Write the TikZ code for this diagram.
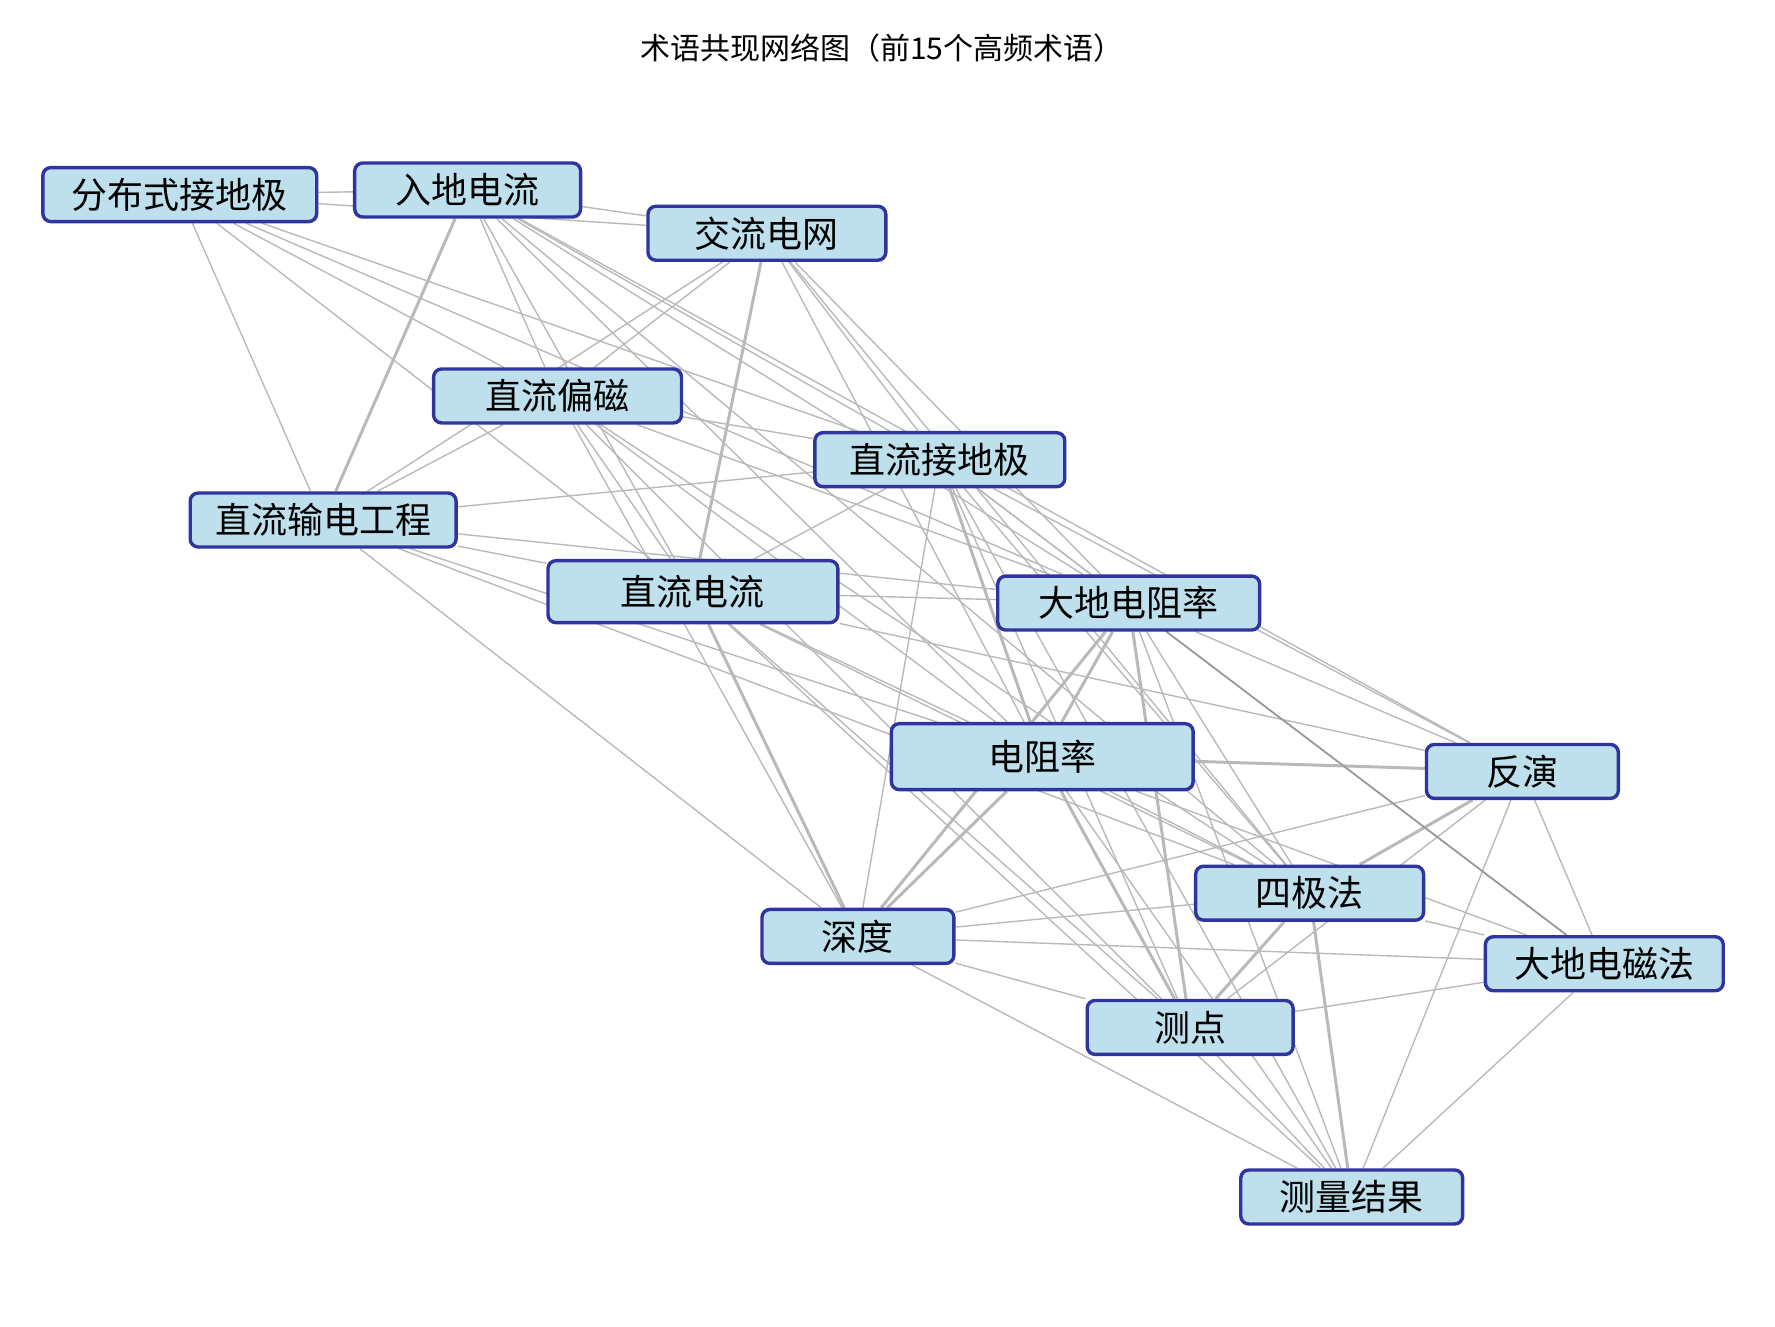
\documentclass[tikz,border=0pt]{standalone}
\usepackage{fontspec}
\setmainfont{Noto Sans CJK SC}
\usetikzlibrary{backgrounds}
\definecolor{nfill}{RGB}{190,224,236}
\definecolor{ndraw}{RGB}{48,52,160}
\begin{document}
\begin{tikzpicture}[x=0.02cm,y=-0.02cm,
  term/.style={draw=ndraw,fill=nfill,line width=1.7pt,rounded corners=4pt,inner sep=0pt,font=\fontsize{18}{20}\selectfont,minimum height=27pt},
  ed/.style={draw=gray!55,line width=0.7pt},
  edt/.style={draw=gray!55,line width=1.5pt}]
\useasboundingbox (0,0) rectangle (1560,1166);
\node[font=\fontsize{15}{18}\selectfont] (title) at (775,42) {术语共现网络图（前15个高频术语）};
\node[term,minimum width=137pt] (a) at (158,171) {分布式接地极};
\node[term,minimum width=113pt] (b) at (411,167) {入地电流};
\node[term,minimum width=119pt] (c) at (674,205) {交流电网};
\node[term,minimum width=124pt] (d) at (490,348) {直流偏磁};
\node[term,minimum width=125pt] (e) at (826,404) {直流接地极};
\node[term,minimum width=133pt] (f) at (284,457) {直流输电工程};
\node[term,minimum width=145pt,minimum height=31pt] (g) at (609,520) {直流电流};
\node[term,minimum width=131pt] (h) at (992,530) {大地电阻率};
\node[term,minimum width=151pt,minimum height=33pt] (i) at (916,665) {电阻率};
\node[term,minimum width=96pt] (j) at (1338,678) {反演};
\node[term,minimum width=114pt] (k) at (1151,785) {四极法};
\node[term,minimum width=96pt] (l) at (754,823) {深度};
\node[term,minimum width=119pt] (m) at (1410,847) {大地电磁法};
\node[term,minimum width=103pt] (n) at (1046,903) {测点};
\node[term,minimum width=111pt] (o) at (1188,1052) {测量结果};
\begin{scope}[on background layer]
\foreach \u/\v in {a/b,a/c,a/f,a/e,a/h,a/g,a/d,b/c,b/d,b/g,b/e,b/h,b/i,b/k,b/j,c/d,c/f,c/e,c/h,c/i,c/k,d/f,d/g,d/e,d/h,d/i,d/l,d/k,d/n,e/f,e/g,e/h,e/i,e/j,e/k,e/l,e/n,e/o,e/m,f/g,f/h,f/i,f/l,g/h,g/i,g/k,g/n,g/o,g/j,h/j,h/k,h/n,h/o,h/m,i/j,i/k,i/n,i/o,i/m,i/l,j/k,j/n,j/m,j/o,j/l,k/l,k/n,k/o,k/m,l/m,l/n,l/o,m/n,m/o,n/o,f/k}
  \draw[ed] (\u) -- (\v);
\foreach \u/\v in {b/f,c/g,g/l,h/l,i/j,j/k,i/l,k/n,e/i,h/i,h/n,i/n,k/o}
  \draw[edt] (\u) -- (\v);
\draw[draw=gray!80,line width=0.8pt] (h) -- (m);
\end{scope}
\end{tikzpicture}
\end{document}
